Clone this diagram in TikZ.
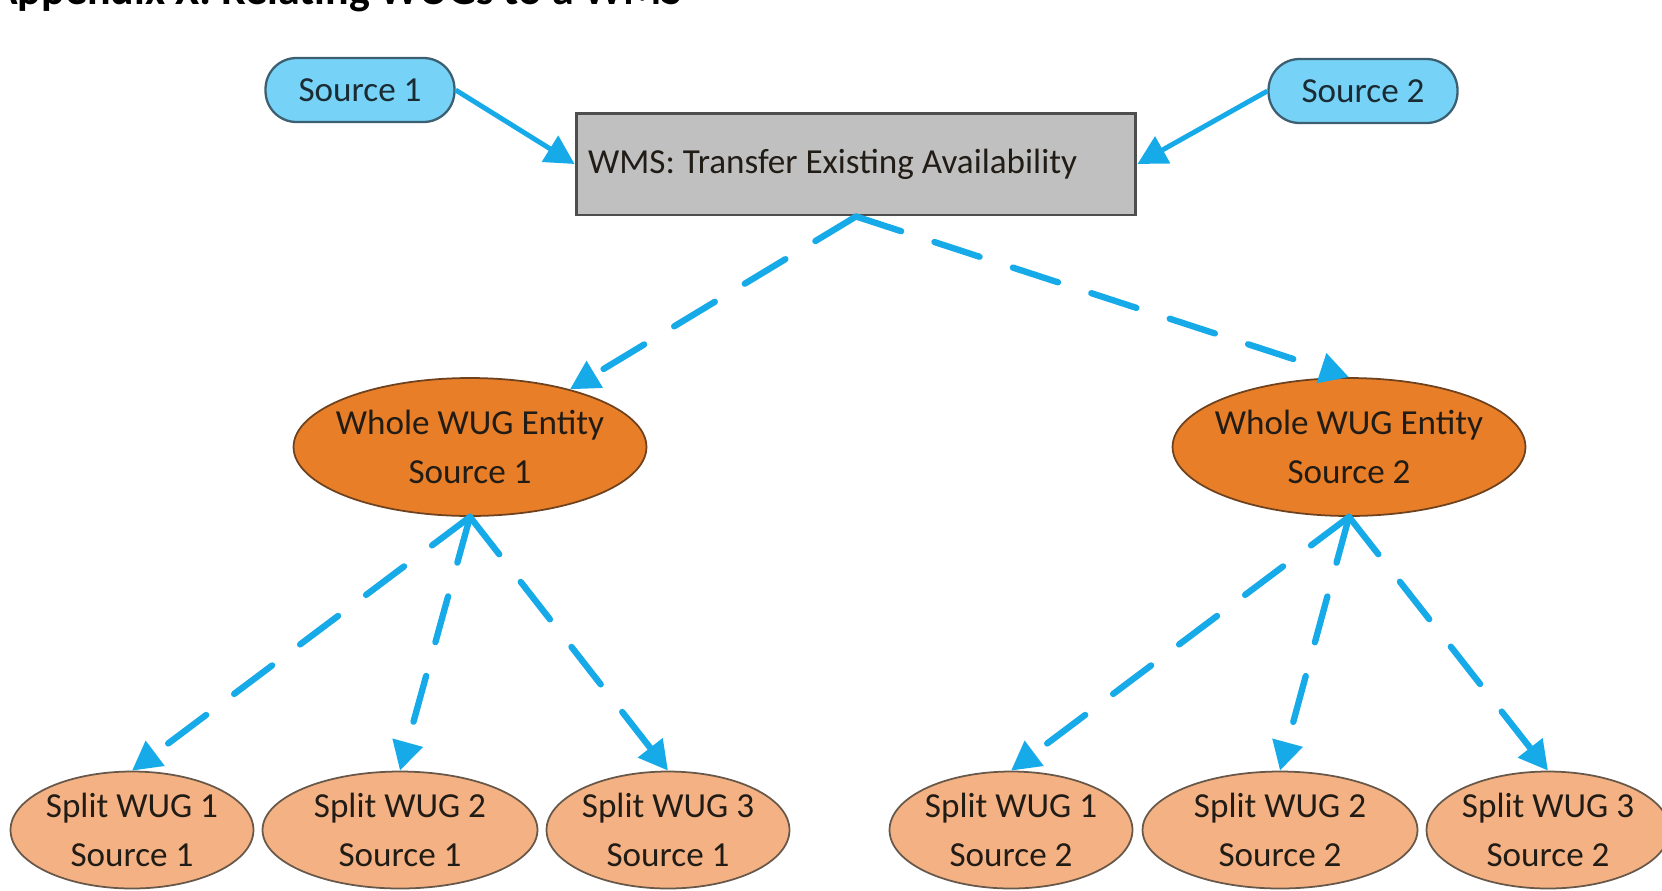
\documentclass[tikz,border=0pt]{standalone}
\usepackage{fontspec}
\setmainfont{Carlito}
\usetikzlibrary{shapes.geometric,arrows.meta}

\definecolor{linkblue}{RGB}{22,170,232}
\definecolor{srcfill}{RGB}{118,210,246}
\definecolor{srcline}{RGB}{60,96,114}
\definecolor{wmsfill}{RGB}{192,192,192}
\definecolor{wmsline}{RGB}{78,78,78}
\definecolor{wholefill}{RGB}{232,126,40}
\definecolor{wholeline}{RGB}{110,66,30}
\definecolor{splitfill}{RGB}{244,178,132}
\definecolor{splitline}{RGB}{104,88,74}
\definecolor{inktext}{RGB}{34,28,22}

\begin{document}
\begin{tikzpicture}[
    x=0.02cm, y=-0.02cm,            % 1 unit = 1 px of the sketch
    font=\fontsize{20}{28}\selectfont,
    srcbox/.style={
        rectangle, rounded corners=0.62cm,
        minimum width=3.78cm, minimum height=1.28cm,
        draw=srcline, line width=1.3pt, fill=srcfill,
        text=srcline!45!black
    },
    wmsbox/.style={
        rectangle, draw=wmsline, line width=1.7pt, fill=wmsfill,
        minimum width=11.2cm, minimum height=2.04cm,
        text width=10.72cm, inner sep=0.24cm, align=flush left,
        text=inktext
    },
    wholeent/.style={
        ellipse, draw=wholeline, line width=1pt, fill=wholefill,
        minimum width=7.06cm, minimum height=2.76cm,
        inner sep=-1cm, align=center, text=inktext
    },
    splitent/.style={
        ellipse, draw=splitline, line width=1pt, fill=splitfill,
        minimum width=4.86cm, minimum height=2.34cm,
        inner sep=-1cm, align=center, text=inktext
    },
    feed/.style={-{Triangle[length=0.58cm,width=0.6cm]}, line width=2.8pt, draw=linkblue},
    hand/.style={feed, line width=3.6pt, line cap=round, dash pattern=on 0.95cm off 0.7cm}
]
\useasboundingbox (0,0) rectangle (1662,890);

% --- heading, cut off by the top edge ---
\node[anchor=base west, inner sep=0pt, font=\bfseries\fontsize{25}{30}\selectfont] (heading) at (-9,4) {Appendix X: Relating WUGs to a WMS};

% --- Row 1: sources and the WMS ---
\node[srcbox] (src1) at (360,90) {Source 1};
\node[srcbox] (src2) at (1363,91) {Source 2};
\node[wmsbox] (wms) at (856,164) {WMS: Transfer Existing Availability};

% --- Row 2: whole WUG entities ---
\node[wholeent] (whole1) at (470,447) {Whole WUG Entity\\Source 1};
\node[wholeent] (whole2) at (1349,447) {Whole WUG Entity\\Source 2};

% --- Row 3: split WUGs ---
\node[splitent] (split11) at (132,830) {Split WUG 1\\Source 1};
\node[splitent, minimum width=5.5cm] (split21) at (400,830) {Split WUG 2\\Source 1};
\node[splitent] (split31) at (668,830) {Split WUG 3\\Source 1};
\node[splitent] (split12) at (1011,830) {Split WUG 1\\Source 2};
\node[splitent, minimum width=5.5cm] (split22) at (1280,830) {Split WUG 2\\Source 2};
\node[splitent] (split32) at (1548,830) {Split WUG 3\\Source 2};

% --- connectors ---
\draw[feed] (src1.east) -- (wms.west);
\draw[feed] (src2.west) -- (wms.east);

\draw[hand] (wms.south) -- (whole1.30);
\draw[hand] (wms.south) -- (whole2.north);

\draw[hand] (whole1.south) -- (split11.north);
\draw[hand] (whole1.south) -- (split21.north);
\draw[hand] (whole1.south) -- (split31.north);

\draw[hand] (whole2.south) -- (split12.north);
\draw[hand] (whole2.south) -- (split22.north);
\draw[hand] (whole2.south) -- (split32.north);

\end{tikzpicture}
\end{document}
